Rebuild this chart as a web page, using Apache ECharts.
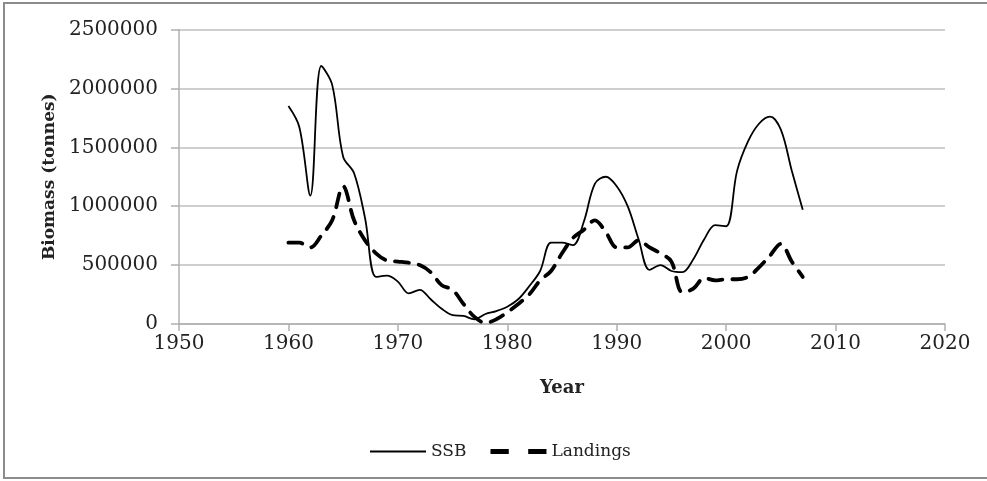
<!DOCTYPE html>
<html>
<head>
<meta charset="utf-8">
<script src="https://cdn.jsdelivr.net/npm/echarts@6/dist/echarts.min.js"></script>
<style>
html,body{margin:0;padding:0;background:#fff;}
#c{width:987px;height:481px;}
</style>
</head>
<body>
<div id="c"></div>
<script>
var years = [1960,1961,1962,1963,1964,1965,1966,1967,1968,1969,1970,1971,1972,1973,1974,1975,1976,1977,1978,1979,1980,1981,1982,1983,1984,1985,1986,1987,1988,1989,1990,1991,1992,1993,1994,1995,1996,1997,1998,1999,2000,2001,2002,2003,2004,2005,2006,2007];
var ssb = [1850000,1670000,1090000,2190000,2030000,1420000,1280000,900000,400000,410000,360000,260000,290000,210000,130000,75000,68000,40000,85000,110000,147000,210000,320000,450000,690000,690000,670000,870000,1190000,1250000,1170000,1000000,720000,460000,500000,450000,440000,550000,720000,840000,830000,1300000,1550000,1700000,1760000,1650000,1300000,970000];
var landings = [690000,690000,650000,750000,880000,1170000,880000,710000,600000,540000,530000,520000,500000,440000,330000,290000,170000,60000,10000,40000,100000,170000,250000,370000,450000,600000,730000,800000,880000,780000,650000,650000,710000,650000,600000,530000,270000,300000,390000,370000,380000,380000,400000,480000,580000,680000,530000,400000];
var xTicks = [1950,1960,1970,1980,1990,2000,2010,2020];
var yTicks = [0,500000,1000000,1500000,2000000,2500000];

function pairs(xs, vs){ return xs.map(function(x,i){ return [x, vs[i]]; }); }

var chart = echarts.init(document.getElementById('c'), null, {renderer:'canvas'});
var font = 'DejaVu Serif';
chart.setOption({
  animation:false,
  backgroundColor:'#fff',
  graphic:[{type:'rect', shape:{x:4,y:3,width:1000,height:475}, style:{fill:'none', stroke:'#8c8c8c', lineWidth:2}, silent:true, z:-1}],
  grid:{left:179, right:42, top:29.5, bottom:157, containLabel:false},
  legend:{
    show:true, orient:'horizontal', left:365, top:438, itemWidth:56, itemHeight:14, itemGap:24,
    textStyle:{fontFamily:font, fontSize:17, color:'#222'},
    data:[
      {name:'SSB', icon:'path://M0,0L56,0L56,2L0,2Z'},
      {name:'Landings', icon:'path://M0,0L16,0L16,4.5L0,4.5Z M33,0L49,0L49,4.5L33,4.5Z'}
    ]
  },
  xAxis:{
    type:'value', min:xTicks[0], max:xTicks[xTicks.length-1], interval:10,
    name:'Year', nameLocation:'middle', nameGap:55,
    nameTextStyle:{fontFamily:font, fontSize:18, fontWeight:'bold', color:'#222'},
    axisLine:{show:true, onZero:false, lineStyle:{color:'#b0b0b0', width:1.5}},
    axisTick:{show:true, length:7, lineStyle:{color:'#b0b0b0', width:1.5}},
    axisLabel:{fontFamily:font, fontSize:20, color:'#222', margin:10, formatter:function(v){return String(v);}},
    splitLine:{show:false}
  },
  yAxis:{
    type:'value', min:yTicks[0], max:yTicks[yTicks.length-1], interval:500000,
    name:'Biomass (tonnes)', nameLocation:'middle', nameGap:120,
    nameTextStyle:{fontFamily:font, fontSize:17, fontWeight:'bold', color:'#222'},
    axisLine:{show:true, lineStyle:{color:'#b0b0b0', width:1.5}},
    axisTick:{show:true, length:8, lineStyle:{color:'#b0b0b0', width:1.5}},
    axisLabel:{fontFamily:font, fontSize:20, color:'#222', margin:21, formatter:function(v){return String(v);}},
    splitLine:{show:true, lineStyle:{color:'#bfbfbf', width:1.5}}
  },
  series:[
    {name:'SSB', type:'line', data:pairs(years, ssb), smooth:0.35, symbol:'none',
     lineStyle:{color:'#000', width:1.8}, itemStyle:{color:'#000'}},
    {name:'Landings', type:'line', data:pairs(years, landings), smooth:0.35, symbol:'none',
     lineStyle:{color:'#000', width:3.8, type:[14,10], cap:'round'}, itemStyle:{color:'#000'}}
  ]
});
</script>
</body>
</html>
